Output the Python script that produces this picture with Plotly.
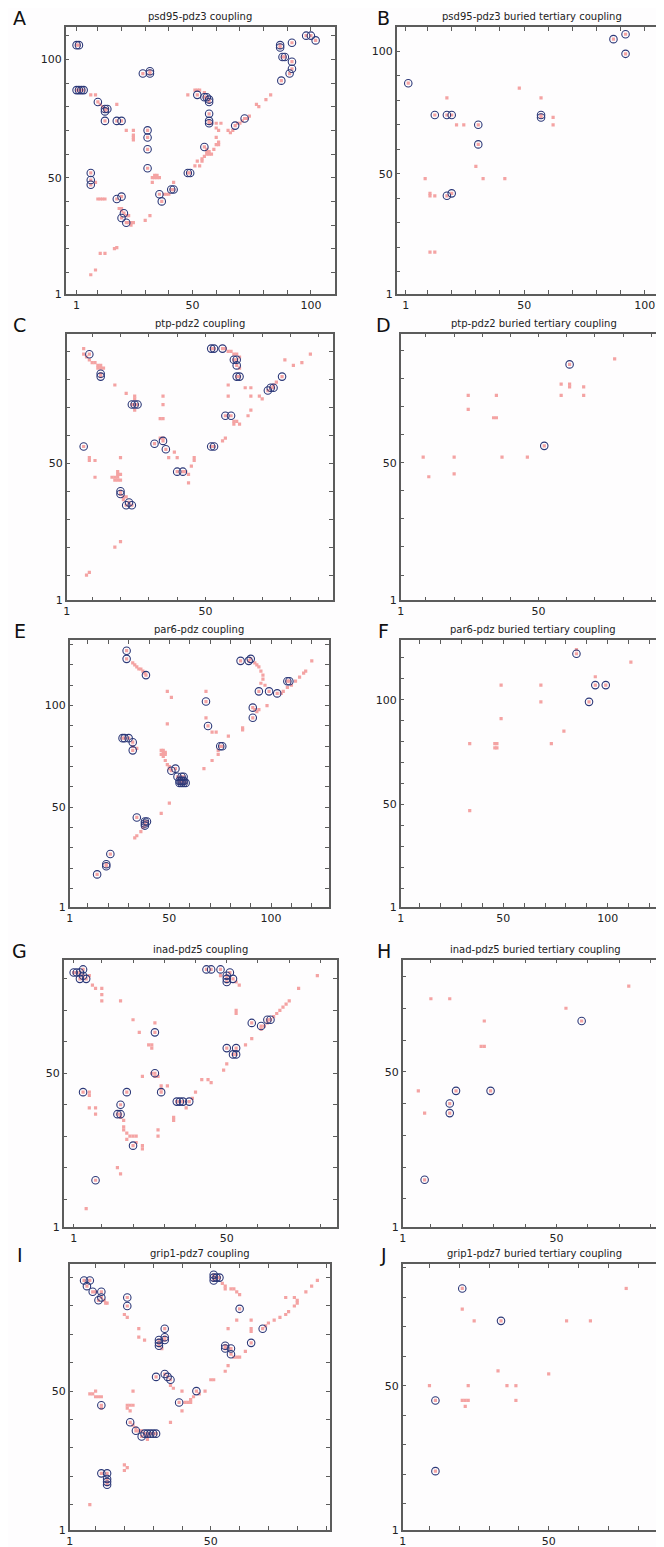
import plotly.graph_objects as go

W, H = 664, 1547

# ---- data: contacts (pink) and coupled pairs (rings) per panel ----
A_pink = [(7,9),(9,11),(11,18),(13,18),(17,20),(18,20.5),
          (10,41),(11,41),(12,41),(13,41),(9,48),
          (19,37),(20,37),(20,36),(22,34),(23,34),
          (23,31),(24,31),(25,31),(24,30),(30,32),(32,34),
          (22,70),(25,70),(25,68),(25,67),(25,66),
          (18,81),(7,85),(9,85),(11,81),(12,80),
          (33,50),(34,50),(35,50),(36,50),(33,48),(34,51),(35,51),
          (38,43),(39,43),(40,43),(42,48),
          (48,85),(51,87),(52,87),(53,87),(55,86),
          (51,55),(52,57),(53,55),(54,57),(54,58),(55,59),(56,60),(57,60),(57,61),(56,61),(56,62),
          (58,73),(60,73),(62,73),(60,71),(61,70),
          (60,67),(61,65),(60,64),(61,64),(59,62),(58,60),
          (65,70),(66,69),(67,70),(69,73),(70,73),(71,74),(73,75),(74,76),
          (77,81),(78,80),(81,83),(83,85)]
A_ring = [(1,106),(2,106),(1,87),(2,87),(3,87),(4,87),(10,82),
          (13,78),(14,79),(13,79),(13,74),(18,74),(20,74),
          (29,94),(32,95),(32,94),(31,70),(31,67),(31,62),(31,54),
          (7,52),(7,49),(7,47),(18,41),(20,42),(20,33),(21,35),(22,31),
          (36,43),(37,40),(41,45),(42,45),(48,52),(49,52),
          (52,85),(55,84),(56,84),(57,83),(57,82),(57,77),(57,74),(57,73),(55,63),
          (68,72),(72,75),(87,106),(87,105),(88,101),(89,101),(92,107),
          (98,110),(100,110),(102,108),(92,99),(92,96),(91,94),(87.5,91)]

B_pink = [(9,48),(11,42),(11,41),(13,41),(11,18),(13,18),(18,81),(22,70),(25,70),
          (30,53),(33,48),(42,48),(48,85),(57,81),(62,73),(62,70)]
B_ring = [(2,87),(13,74),(18,74),(20,74),(31,70),(31,62),(18,41),(20,42),
          (57,74),(57,73),(87,105),(92,107),(92,99)]

C_pink = [(7,91),(7,89),(8,88),(9,87),(10,86),(11,86),(12,85),(13,85),(12,84),(13,84),(14,84),
          (18,78),(22,75),(25,74),(25,73),(25,69),(35,74),(35,71),(34,66),(35,66),(34,59),(35,59),
          (37,52),(39,54),(40,52),(43,47),(44,46),(44,43),(45,49),(46,52),(46,51),
          (9,52),(9,51),(11,51),(11,45),(17,45),(18,45),(19,45),(19,46),(20,46),(20,44),(19,44),
          (18,44),(19,47),(20,52),(21,38),(22,38),(21,37),(18,20),(20,22),(8,10),(9,11),
          (57,91),(58,90),(59,90),(60,89),(61,89),(62,88),(62,84),(58,78),(58,74),(64,77),(66,77),
          (66,74),(69,74),(70,73),(66,69),(65,67),(60,65),(61,65),(60,64),(62,64),(56,58),(57,59),
          (78,87),(81,85),(84,86),(87,89),(75,79),(74,78)]
C_ring = [(9,89),(13,82),(13,81),(24,71),(25,71),(26,71),(7,56),(32,57),(35,58),(36,55),
          (40,47),(42,47),(20,40),(20,39),(22,35),(24,35),(23,36),(52,91),(53,91),(56,91),
          (60,87),(61,87),(61,85),(61,81),(62,81),(57,67),(59,67),(52,56),(53,56),
          (72,76),(73,77),(74,77),(77,81)]

D_pink = [(9,52),(11,45),(20,52),(20,46),(25,74),(25,69),(34,66),(35,66),(35,74),(37,52),
          (46,52),(58,78),(58,74),(61,78),(61,77),(66,77),(66,74),(77,87)]
D_ring = [(61,85),(52,56)]

E_pink = [(32,121),(33,120),(34,119),(35,118),(36,118),(37,117),(38,116),(32,80),(34,79),
          (33,35),(34,36),(36,38),(37,40),(46,47),(50,52),(46,78),(47,78),(47,77),(48,77),
          (47,76),(48,76),(47,75),(46,76),(48,73),(49,71),(50,70),(50,69),(49,107),(51,104),
          (49,91),(68,107),(68,94),(71,87),(73,87),(67,69),(71,73),(74,78),(74,76),(79,85),
          (86,89),(86,88),(92,121),(93,120),(94,119),(95,117),(96,115),(96,113),(95,111),
          (97,110),(92,98),(93,97),(94,98),(98,100),(105,106),(106,107),(108,109),(110,110),
          (112,112),(114,114),(116,116),(117,117),(120,122)]
E_ring = [(29,127),(29,123),(38.5,115),(27,84),(28,84),(30,84),(32,82),(32,78),(34,45),
          (38,43),(39,43),(38,42),(38,41),(21,27),(19,22),(19,21),(14.5,17),(51,68),(53,69),
          (54,65),(56,65),(57,65),(55,63),(56,63),(57,63),(55,62),(56,62),(57,62),(58,62),
          (68,102),(69,90),(75,80),(76,80),(85,122),(89,122),(90,123),(91,99),(91,94),
          (94,107),(99,107),(103,106),(108,112),(109,112)]

F_pink = [(85,124),(94,111),(111,118),(49,107),(68,107),(68,99),(49,91),(79,85),(34,79),
          (46,79),(47,79),(46,77),(47,77),(73,79),(34,47)]
F_ring = [(85,122),(94,107),(99,107),(91,99)]

G_pink = [(6,81),(7,78),(8,77),(10,77),(10,75),(10,73),(16,73),(20,67),(22,63),(23,49),
          (25,59),(26,59),(26,58),(27,66),(26,50),(27,49),(28,49),(29,46),(29,45),(31,46),
          (6,44),(6,43),(6,39),(8,39),(8,37),(16,36),(17,35),(17,33),(17,32),(18,31),(19,30),
          (20,30),(21,30),(18,29),(21,28),(23,27),(23,26),(28,32),(28,30),(33,36),(33,35),
          (37,39),(39,42),(40,44),(15,20),(16,18),(5,7),(42,48),(44,48),(45,47),(49,51),
          (50,53),(53,70),(53,69),(54,78),(53,79),(48,81),(56,59),(58,61),(61,64),(62,65),
          (63,66),(64,67),(65,68),(66,69),(67,70),(68,71),(69,72),(70,73),(73,77),(79,81)]
G_ring = [(1,82),(2,82),(3,82),(4,83),(4,81),(3,80),(5,80),(4,44),(8,16),(16,40),(15,37),
          (16,37),(18,44),(20,27),(27,63),(27,50),(29,44),(34,41),(35,41),(36,41),(38,41),
          (43.5,83),(45,83),(48,83),(51,82),(50,81),(50,80),(50,79),(52,80),(58,66),(61,65),
          (63,67),(64,67),(50,58),(53,58),(52,56),(53,56)]

H_pink = [(6,44),(8,37),(10,73),(16,73),(27,66),(26,58),(27,58),(53,70),(73,77)]
H_ring = [(8,16),(16,40),(16,37),(18,44),(29,44),(58,66)]

I_pink = [(10,85),(13,82),(13.5,81),(14,81),(20,77),(21,76),(25,72),(25,69),(27,68),(33,65),
          (8,49),(9,49),(10,48),(11,48),(12,48),(10,50),(12,44),(23,50),(21,45),(22,45),
          (23,45),(21,44),(22,43),(23,38),(24,37),(25,36),(26,36),(28,34),(28,33),(20,24),
          (21,23),(20,22),(8,10),(36,52),(37,51),(40,50),(40,43),(36,39),(41,46),(42,46),
          (43,46),(43,47),(44,48),(46,49),(48,50),(50,54),(51,54),(55,57),(56,59),(56,72),
          (54,88),(55,87),(55,86),(57,86),(58,86),(59,85),(60,84),(59,75),(64,75),(64,72),
          (64,71),(58,62),(59,62),(60,62),(62,64),(69,73),(70,74),(72,75),(74,76),(76,77),
          (77,78),(79,80),(80,81),(76,83),(79,83),(80,82),(83,85),(85,87),(87,89)]
I_ring = [(6,89),(8,89),(7,87),(9,85),(12,85),(12,83),(11,82),(21,83),(21,80),(34,72),
          (34,69),(34,68),(32,68),(32,67),(32,66),(12,45),(12,21),(14,21),(14,19),(14,18),
          (14,17),(22,39),(24,36),(26,34),(27,35),(28,35),(29,35),(30,35),(31,35),(31,55),
          (34,56),(35,55),(36,54),(39,46),(45,50),(51,91),(51,90),(51,89),(52,90),(53,90),
          (60,79),(55,66),(55,65),(57,65),(57,63),(64,67),(68,72)]

J_pink = [(21,76),(25,72),(56,72),(64,72),(76,83),(10,50),(23,50),(21,45),(22,45),(23,45),
          (22,43),(33,55),(36,50),(39,50),(39,45),(50,54)]
J_ring = [(21,83),(34,72),(12,45),(12,21)]

TITLES = ["psd95-pdz3 coupling", "psd95-pdz3 buried tertiary coupling",
          "ptp-pdz2 coupling", "ptp-pdz2 buried tertiary coupling",
          "par6-pdz coupling", "par6-pdz buried tertiary coupling",
          "inad-pdz5 coupling", "inad-pdz5 buried tertiary coupling",
          "grip1-pdz7 coupling", "grip1-pdz7 buried tertiary coupling"]
LETTERS = ["A", "B", "C", "D", "E", "F", "G", "H", "I", "J"]
TICK_VALS = [1, 10, 20, 30, 40, 50, 60, 70, 80, 90, 100, 110, 120, 130]
TICK_LABELS = {1: "1", 50: "50", 100: "100"}

PINK = [A_pink, B_pink, C_pink, D_pink, E_pink, F_pink, G_pink, H_pink, I_pink, J_pink]
RING = [A_ring, B_ring, C_ring, D_ring, E_ring, F_ring, G_ring, H_ring, I_ring, J_ring]

# frame boxes in pixels (left, right, top, bottom) and axis ranges
BOXES = [(54, 325, 19, 287), (387, 660, 19, 287),
         (55, 323, 327, 595), (391, 659, 327, 595),
         (58, 319, 635, 903), (391, 658, 635, 903),
         (52, 327, 956, 1225), (393, 660, 956, 1225),
         (58, 320, 1262, 1529), (393, 659, 1262, 1529)]
XR = [[-3.6, 110.2], [-2.8, 109.6], [1, 95], [1, 95.6], [1, 128.5],
      [1, 127.8], [-2.2, 85.3], [1, 85.5], [1, 91.4], [1, 89.7]]
YR = [[1, 113.7], [1, 110], [1, 96.4], [1, 96], [1, 132.2],
      [1, 128.5], [1, 86.1], [1, 85.3], [1, 94.7], [1, 91.2]]

PINK_C = "#f4a3a3"
RING_C = "#2c3878"
FRAME_C = "#5c5c5c"

fig = go.Figure()
layout = dict(width=W, height=H, margin=dict(l=0, r=0, t=0, b=0),
              paper_bgcolor="#fefdfe", plot_bgcolor="#fefdfe",
              showlegend=False, font=dict(family="DejaVu Sans", size=11, color="#222"))
annotations = []

for i in range(10):
    n = "" if i == 0 else str(i + 1)
    xa, ya = "x" + n, "y" + n
    l, r, t, b = BOXES[i]
    pts = PINK[i] + RING[i]
    fig.add_trace(go.Scatter(
        x=[p[0] for p in pts], y=[p[1] for p in pts], mode="markers",
        marker=dict(symbol="square", size=3.2, color=PINK_C, line=dict(width=0)),
        xaxis=xa, yaxis=ya, hoverinfo="skip"))
    fig.add_trace(go.Scatter(
        x=[p[0] for p in RING[i]], y=[p[1] for p in RING[i]], mode="markers",
        marker=dict(symbol="circle-open", size=7.5, color=RING_C, line=dict(width=1.1)),
        xaxis=xa, yaxis=ya, hoverinfo="skip"))

    def axis(rng, dom, anchor):
        vals = [v for v in TICK_VALS if rng[0] <= v <= rng[1]]
        return dict(domain=dom, range=rng, anchor=anchor, showgrid=False, zeroline=False,
                    showline=True, linecolor=FRAME_C, linewidth=1.5, mirror="ticks",
                    ticks="inside", ticklen=4, tickwidth=1, tickcolor=FRAME_C,
                    tickvals=vals, ticktext=[TICK_LABELS.get(v, "") for v in vals],
                    tickfont=dict(size=11, color="#222"), fixedrange=True)

    layout["xaxis" + n] = axis(XR[i], [l / W, r / W], ya)
    layout["yaxis" + n] = axis(YR[i], [1 - b / H, 1 - t / H], xa)

    annotations.append(dict(text=TITLES[i], x=(l + r) / 2 / W, y=1 - (t - 3) / H,
                            xref="paper", yref="paper", xanchor="center", yanchor="bottom",
                            showarrow=False, font=dict(size=10, color="#222")))
    lx = 8 if i % 2 == 0 else 374
    annotations.append(dict(text=LETTERS[i], x=lx / W, y=1 - (t - 9) / H,
                            xref="paper", yref="paper", xanchor="center", yanchor="middle",
                            showarrow=False, font=dict(size=19, color="#111")))

layout["annotations"] = annotations
fig.update_layout(**layout)
fig.write_html("out.html")
